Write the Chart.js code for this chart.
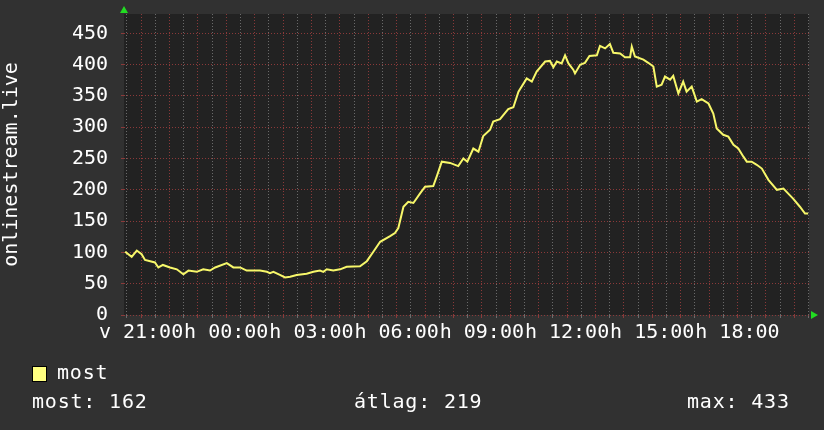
<!DOCTYPE html>
<html>
<head>
<meta charset="utf-8">
<script src="https://cdn.jsdelivr.net/npm/chart.js@4"></script>
<style>
  html, body { margin: 0; padding: 0; background: #313131; }
  #wrap { position: relative; width: 824px; height: 430px; }
  .txt {
    position: absolute; color: #fff; white-space: pre;
    font-family: 'DejaVu Sans Mono', monospace; font-size: 20px; letter-spacing: 0.8px;
  }
  .negyzet {
    position: absolute; left: 32px; top: 366px; width: 13px; height: 14px;
    background: #ffff80; border: 1px solid #000;
  }
</style>
</head>
<body>
<div id="wrap">
  <canvas id="grafico" width="824" height="430"></canvas>
  <div class="negyzet"></div>
  <div class="txt" style="left:57px; top:360px;">most</div>
  <div class="txt" style="left:32px; top:389px;">most: 162</div>
  <div class="txt" style="left:354px; top:389px;">átlag: 219</div>
  <div class="txt" style="left:687px; top:389px;">max: 433</div>
</div>
<script>
// idő: órák 21:00-tól számolva
const orak = [-0.56, -0.33, -0.15, 0.02, 0.14, 0.49, 0.61, 0.77, 1.02, 1.26, 1.49, 1.67, 1.96, 2.19, 2.43, 2.61,
  3.02, 3.25, 3.49, 3.72, 4.19, 4.43, 4.54, 4.66, 4.89, 5.07, 5.25, 5.48, 5.83, 6.07, 6.30, 6.42, 6.54, 6.77,
  7.01, 7.24, 7.71, 7.95, 8.18, 8.42, 8.77, 8.94,
  9.06, 9.24, 9.41, 9.59, 9.82, 10.0, 10.29, 10.41, 10.59, 10.88, 11.17, 11.35, 11.49, 11.70, 11.88, 12.05,
  12.29, 12.40, 12.64, 12.82, 12.93, 13.11, 13.29, 13.58, 13.76, 13.93, 14.23, 14.40, 14.52, 14.64, 14.81,
  14.93, 15.05, 15.22, 15.28, 15.46, 15.63, 15.79, 16.05, 16.16, 16.34, 16.51, 16.63, 16.87, 17.04, 17.22,
  17.28, 17.39, 17.69, 17.86, 18.04, 18.16, 18.33, 18.45, 18.63, 18.74, 18.92, 19.09, 19.21, 19.39, 19.57,
  19.74, 19.98, 20.15, 20.27, 20.50, 20.68, 20.86, 21.03, 21.21, 21.33, 21.50, 21.68, 21.86, 22.09, 22.39,
  22.62, 22.79, 22.96, 23.20, 23.38, 23.49];
const most = [101, 93, 103, 97, 88, 84, 76, 80, 76, 73, 65, 71, 69, 73, 71, 76,
  83, 76, 76, 71, 71, 69, 67, 69, 64, 60, 61, 64, 66, 69, 71, 69, 73, 71,
  73, 77, 78, 86, 101, 117, 126, 131,
  139, 173, 181, 179, 194, 205, 206, 221, 245, 243, 238, 250, 245, 266, 261, 286,
  296, 309, 313, 323, 329, 332, 357, 378, 373, 389, 405, 406, 396, 405, 402,
  415, 402, 392, 386, 400, 403, 414, 415, 430, 426, 433, 419, 418, 412, 412,
  429, 413, 408, 403, 397, 365, 368, 381, 376, 382, 354, 373, 357, 365, 341,
  345, 338, 322, 298, 288, 285, 272, 266, 253, 245, 245, 240, 234, 216, 200,
  202, 194, 186, 173, 162, 162];

const cimkeOrak = [0, 3, 6, 9, 12, 15, 18, 21];
const cimkek = ['v 21:00', 'h 00:00', 'h 03:00', 'h 06:00', 'h 09:00', 'h 12:00', 'h 15:00', 'h 18:00'];

const betu = { family: "'DejaVu Sans Mono', monospace", size: 20 };
const piros = 'rgba(150, 60, 60, 0.9)';
const szurke = 'rgba(125, 125, 125, 0.8)';

// sötét rajzterület + zöld nyilak
const hatter = {
  id: 'hatter',
  beforeDraw(chart) {
    const { ctx, chartArea: a } = chart;
    ctx.save();
    ctx.fillStyle = '#222222';
    ctx.fillRect(a.left, a.top, a.right - a.left, a.bottom - a.top);
    ctx.restore();
  },
  afterDraw(chart) {
    const { ctx, chartArea: a } = chart;
    ctx.save();
    ctx.fillStyle = '#22dd22';
    ctx.beginPath();
    ctx.moveTo(a.left - 4, a.top - 1);
    ctx.lineTo(a.left + 4, a.top - 1);
    ctx.lineTo(a.left, a.top - 8);
    ctx.fill();
    ctx.beginPath();
    ctx.moveTo(a.right + 2, a.bottom - 4);
    ctx.lineTo(a.right + 2, a.bottom + 4);
    ctx.lineTo(a.right + 9, a.bottom);
    ctx.fill();
    ctx.restore();
  }
};

new Chart(document.getElementById('grafico'), {
  type: 'line',
  data: {
    datasets: [{
      label: 'most',
      data: orak.map((o, i) => ({ x: o, y: most[i] })),
      borderColor: '#f7f76a',
      borderWidth: 2,
      pointRadius: 0,
      tension: 0
    }]
  },
  options: {
    responsive: false,
    animation: false,
    layout: { padding: { top: 14, right: 15, bottom: 88, left: 0 } },
    plugins: { legend: { display: false }, tooltip: { enabled: false } },
    scales: {
      x: {
        type: 'linear',
        min: -0.6,
        max: 23.52,
        afterBuildTicks(scale) {
          const t = [];
          for (let v = -0.5; v <= 23.5; v += 0.5) t.push({ value: v });
          scale.ticks = t;
        },
        afterFit(scale) {
          scale.height = 27;
          scale.paddingLeft = 0;
          scale.paddingRight = 0;
        },
        ticks: {
          autoSkip: false, maxRotation: 0, color: '#fff', font: betu, padding: 3,
          callback: (v) => {
            const i = cimkeOrak.indexOf(v);
            return i >= 0 ? cimkek[i] : '';
          }
        },
        grid: {
          color: (c) => Number.isInteger(c.tick.value) ? piros : szurke,
          tickLength: 3,
          lineWidth: 1
        },
        border: { display: false, dash: [1, 2] }
      },
      y: {
        min: 0,
        max: 481,
        afterBuildTicks(scale) {
          const t = [];
          for (let v = 0; v <= 480; v += 10) t.push({ value: v });
          scale.ticks = t;
        },
        afterFit(scale) {
          scale.width = 124;
          scale.paddingTop = 0;
          scale.paddingBottom = 0;
        },
        ticks: {
          color: '#fff', font: betu, padding: 13,
          callback: (v) => v % 50 === 0 ? v : ''
        },
        grid: {
          color: (c) => c.tick.value % 50 === 0 ? piros : szurke,
          tickLength: 3,
          lineWidth: 1
        },
        border: { display: false, dash: [1, 2] },
        title: {
          display: true, text: 'onlinestream.live', color: '#fff', font: betu,
          padding: { top: 0, bottom: 0 }
        }
      }
    }
  },
  plugins: [hatter]
});
</script>
</body>
</html>
